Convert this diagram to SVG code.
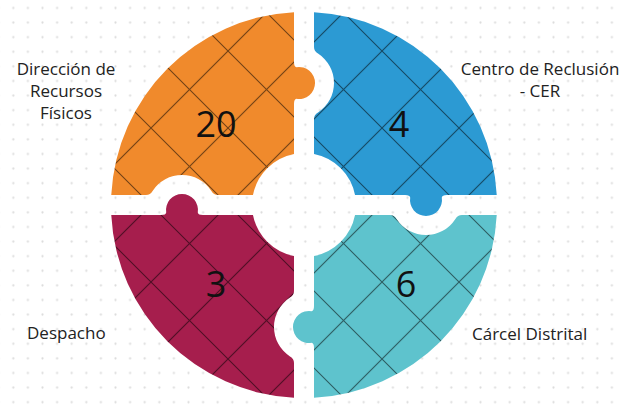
<svg xmlns="http://www.w3.org/2000/svg" xmlns:xlink="http://www.w3.org/1999/xlink" width="619" height="409" viewBox="0 0 619 409">
<style>
.lbl{font-family:"Open Sans","Liberation Sans",sans-serif;font-size:17px;fill:#222}
.mid{text-anchor:middle}
.num{font-family:"Open Sans","Liberation Sans",sans-serif;font-size:36px;fill:#111;text-anchor:middle}
</style>
<defs>
<pattern id="dots" patternUnits="userSpaceOnUse" x="6" y="0.7" width="14.6" height="14.6">
<circle cx="7.3" cy="7.3" r="1.1" fill="#dcdcdc"/>
</pattern>
<pattern id="grid" patternUnits="userSpaceOnUse" width="54.45" height="54.45" patternTransform="translate(35.5,-26) rotate(45)">
<path d="M27.22,-1V55.5M-1,27.22H55.5" stroke="#000" stroke-opacity="0.5" stroke-width="1.1" fill="none"/>
</pattern>
<path id="knob" d="M-21,1 L-21,0 Q-16,0 -15.8,-2.5 A16 16 0 1 1 15.8,-2.5 Q16,0 21,0 L21,1 Z"/>
<path id="notch" d="M-36,-15 L-36,-20 Q-31.6,-20 -29.4,-24 A35 35 0 0 1 29.4,-24 Q31.6,-20 36,-20 L36,-15 Z"/>
<mask id="mO" maskUnits="userSpaceOnUse" x="0" y="0" width="619" height="409">
<path fill="#fff" d="M294,12.26 L294,153.97 A52 52 0 0 0 252.97,195 L111.26,195 A193 193 0 0 1 294,12.26 Z"/>
<use xlink:href="#knob" fill="#fff" transform="translate(294,83) rotate(90)"/>
<use xlink:href="#notch" fill="#000" transform="translate(182,215)"/>
</mask>
<mask id="mB" maskUnits="userSpaceOnUse" x="0" y="0" width="619" height="409">
<path fill="#fff" d="M314,12.26 A193 193 0 0 1 496.74,195 L355.03,195 A52 52 0 0 0 314,153.97 Z"/>
<use xlink:href="#knob" fill="#fff" transform="translate(426,195) rotate(180)"/>
<use xlink:href="#notch" fill="#000" transform="translate(294,83) rotate(90)"/>
</mask>
<mask id="mM" maskUnits="userSpaceOnUse" x="0" y="0" width="619" height="409">
<path fill="#fff" d="M111.26,215 L252.97,215 A52 52 0 0 0 294,256.03 L294,397.74 A193 193 0 0 1 111.26,215 Z"/>
<use xlink:href="#knob" fill="#fff" transform="translate(182,215)"/>
<use xlink:href="#notch" fill="#000" transform="translate(314,327) rotate(-90)"/>
</mask>
<mask id="mT" maskUnits="userSpaceOnUse" x="0" y="0" width="619" height="409">
<path fill="#fff" d="M355.03,215 L496.74,215 A193 193 0 0 1 314,397.74 L314,256.03 A52 52 0 0 0 355.03,215 Z"/>
<use xlink:href="#knob" fill="#fff" transform="translate(314,327) rotate(-90)"/>
<use xlink:href="#notch" fill="#000" transform="translate(426,195) rotate(180)"/>
</mask>
</defs>
<rect width="619" height="409" fill="#fff"/>
<rect width="619" height="409" fill="url(#dots)"/>
<g id="connectors"/>
<g id="node-direccion">
<g mask="url(#mO)"><rect x="100" y="0" width="230" height="220" fill="#F08A2C"/><rect x="100" y="0" width="230" height="220" fill="url(#grid)"/></g>
<text class="num" x="216" y="137">20</text>
<text class="lbl mid" x="66" y="75">Dirección de</text>
<text class="lbl mid" x="66" y="97">Recursos</text>
<text class="lbl mid" x="66" y="119">Físicos</text>
</g>
<g id="node-cer">
<g mask="url(#mB)"><rect x="290" y="0" width="220" height="220" fill="#2C9AD3"/><rect x="290" y="0" width="220" height="220" fill="url(#grid)"/></g>
<text class="num" x="399" y="137">4</text>
<text class="lbl mid" x="540" y="75">Centro de Reclusión</text>
<text class="lbl mid" x="540" y="97">- CER</text>
</g>
<g id="node-despacho">
<g mask="url(#mM)"><rect x="100" y="190" width="230" height="219" fill="#A61E4D"/><rect x="100" y="190" width="230" height="219" fill="url(#grid)"/></g>
<text class="num" x="216" y="297">3</text>
<text class="lbl" x="27" y="339">Despacho</text>
</g>
<g id="node-carcel">
<g mask="url(#mT)"><rect x="280" y="190" width="230" height="219" fill="#5EC3CD"/><rect x="280" y="190" width="230" height="219" fill="url(#grid)"/></g>
<text class="num" x="406" y="297">6</text>
<text class="lbl" x="472" y="340">Cárcel Distrital</text>
</g>
</svg>
